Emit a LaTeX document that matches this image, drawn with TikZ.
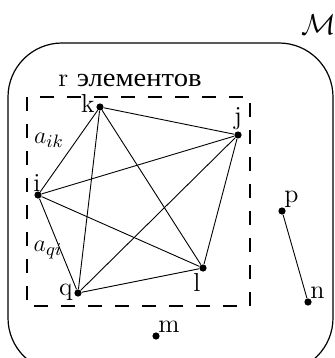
\documentclass[tikz,border=0pt]{standalone}
\usepackage{fontspec}
\usepackage{amsmath,amssymb}
\usepackage{tikz}
\usetikzlibrary{positioning}
\newfontfamily\cyrfont[FakeStretch=1.1]{Liberation Serif}

\begin{document}
\begin{tikzpicture}[x=0.5pt, y=-0.5pt, font=\fontsize{13}{15}\selectfont,
    vertex/.style={circle, fill=black, inner sep=0pt, minimum size=3.6pt},
    edge/.style={line width=0.45pt},
    every label/.style={inner sep=0.5pt}]

\clip (0,0) rectangle (334,358);

% set M and the group of r elements
\draw[line width=0.6pt, rounded corners=27pt] (8,43) rectangle (333,372);
\node[inner sep=1pt, font=\fontsize{15}{17}\selectfont] (setM) at (319,25) {$\mathcal{M}$};
\draw[line width=1.4pt, dash pattern=on 7pt off 6.5pt] (27,97) rectangle (250,306);
\node[inner sep=1pt] (title) at (130,81) {r {\cyrfont элементов}};

% vertices
\node[vertex, label={[yshift=2pt]left:k}] (k) at (100,107) {};
\node[vertex, label={above:j}] (j) at (238,135) {};
\node[vertex, label={[label distance=-1pt, xshift=-0.5pt]above:i}] (i) at (38,195) {};
\node[vertex, label={[label distance=-1pt]60:p}] (p) at (282,211) {};
\node[vertex, label={[label distance=-1pt]60:n}] (n) at (308,302) {};
\node[vertex, label={[yshift=0.5pt]left:q}] (q) at (78,293) {};
\node[vertex, label={[label distance=0pt]255:l}] (l) at (203,268) {};
\node[vertex, label={[label distance=-1pt]60:m}] (m) at (156,336) {};

% edge weights
\node (aik) at (49,140) {$a_{ik}$};
\node (aqi) at (48,250) {$a_{qi}$};

% complete graph on the r elements
\foreach \u/\v in {k/j, k/i, k/q, k/l, j/i, j/q, j/l, i/q, i/l, q/l}
  \draw[edge] (\u) -- (\v);
\draw[edge] (p) -- (n);
\end{tikzpicture}
\end{document}
